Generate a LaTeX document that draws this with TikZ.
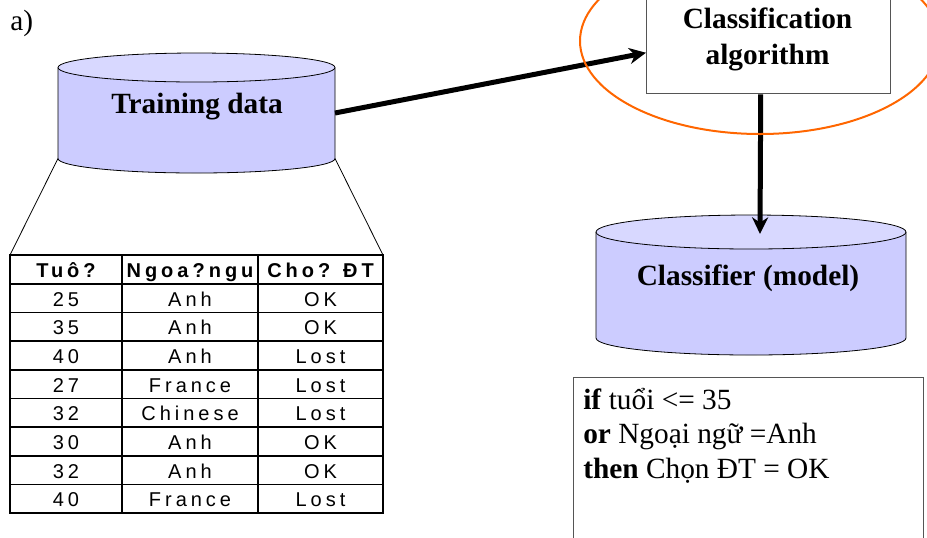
\documentclass[tikz,border=0pt]{standalone}
\usepackage{fontspec}
\setmainfont{Liberation Serif}
\newfontfamily\tabfont{Liberation Sans}[LetterSpace=20]
\usetikzlibrary{arrows.meta,calc}

\definecolor{cylside}{RGB}{204,204,255}
\definecolor{cyltop}{RGB}{216,216,255}
\definecolor{ringorange}{RGB}{255,102,0}
\definecolor{boxedge}{RGB}{85,85,85}

\begin{document}
\begin{tikzpicture}[x=0.75pt,y=-0.75pt,
  bigtext/.style={font=\fontsize{22}{26}\selectfont},
  title/.style={font=\fontsize{22}{26}\selectfont\bfseries},
  cell/.style={font=\tabfont\fontsize{15}{17}\selectfont, anchor=base, inner sep=0pt},
  headcell/.style={font=\tabfont\bfseries\fontsize{15}{17}\selectfont, anchor=base, inner sep=0pt},
  grid/.style={line width=1.2pt},
  outline/.style={line width=0.6pt},
  flow/.style={line width=3.75pt, -{Stealth[length=12.5pt,width=12pt,inset=4pt]}},
  ring/.style={draw=ringorange, line width=1.5pt}]

\useasboundingbox (0,0) rectangle (927,537);

\node[bigtext, anchor=base west, inner sep=0pt] (lbl) at (10,30) {a)};

% ---------- Training data cylinder ----------
\fill[cylside] (58,67.5) -- (58,158.5)
  arc[start angle=180, end angle=0, x radius=138.5, y radius=14.5] -- (335,67.5) -- cycle;
\draw[outline] (58,67.5) -- (58,158.5)
  arc[start angle=180, end angle=0, x radius=138.5, y radius=14.5] -- (335,67.5);
\filldraw[fill=cyltop, outline] (196.5,67.5) ellipse [x radius=138.5, y radius=14.5];
\node[title, anchor=base, inner sep=0pt] (td) at (197,113) {Training data};
\coordinate (tdBL) at (58,158.5);
\coordinate (tdBR) at (335,158.5);
\coordinate (tdR) at (335,113);

% ---------- table ----------
\coordinate (tabTL) at (10,255);
\coordinate (tabTR) at (383,255);
\draw[outline] (tdBL) -- (tabTL);
\draw[outline] (tdBR) -- (tabTR);

\draw[line width=1.5pt] (10,255) rectangle (383,513);
\foreach \cx in {122,258} \draw[grid] (\cx,255) -- (\cx,513);
\foreach \i in {1,...,8} \draw[grid] (10,255+\i*28.67) -- (383,255+\i*28.67);
\foreach \i in {1,3,4} \draw[line width=1.6pt] (10,255+\i*28.67) -- (383,255+\i*28.67);

\node[headcell] (h1) at (66,277) {Tuô?};
\node[headcell] (h2) at (190,277) {Ngoa?ngu};
\node[headcell] (h3) at (320.5,277) {Cho? ĐT};

\foreach \age/\lang/\res [count=\r] in
  {25/Anh/OK, 35/Anh/OK, 40/Anh/Lost, 27/France/Lost,
   32/Chinese/Lost, 30/Anh/OK, 32/Anh/OK, 40/France/Lost}{
  \node[cell] (a\r) at (66,255+\r*28.67+22.5) {\age};
  \node[cell] (l\r) at (190,255+\r*28.67+22.5) {\lang};
  \node[cell] (o\r) at (320.5,255+\r*28.67+22.5) {\res};
}

% ---------- classification algorithm ----------
\node[draw=boxedge, line width=1.1pt, anchor=north west, inner sep=0pt,
      minimum width=183pt, minimum height=71.25pt] (alg) at (646,-2) {};
\node[title, anchor=base, inner sep=0pt] (alg1) at (767.5,28) {Classification};
\node[title, anchor=base, inner sep=0pt] (alg2) at (767.5,64) {algorithm};

% ---------- classifier cylinder ----------
\fill[cylside] (596,232) -- (596,338)
  arc[start angle=180, end angle=0, x radius=155, y radius=17] -- (906,232) -- cycle;
\draw[outline] (596,232) -- (596,338)
  arc[start angle=180, end angle=0, x radius=155, y radius=17] -- (906,232);
\filldraw[fill=cyltop, outline] (751,232) ellipse [x radius=155, y radius=17];
\node[title, anchor=base, inner sep=0pt] (clf) at (748,285) {Classifier (model)};
\coordinate (clfIn) at (760,234);

% ---------- connectors ----------
\draw[flow] (tdR) -- ($(alg.west)+(0,6.5)$);
\draw[flow] ($(alg.south)+(-8,0)$) -- (clfIn);

\draw[ring] (760,41) ellipse [x radius=180, y radius=93];

% ---------- rule box ----------
\node[draw=boxedge, line width=0.8pt, anchor=north west, inner sep=0pt,
      minimum width=262.5pt, minimum height=126pt] (rules) at (573,377) {};
\node[bigtext, anchor=base west, inner sep=0pt] (r1) at (583,409) {\textbf{if} tuổi <= 35};
\node[bigtext, anchor=base west, inner sep=0pt] (r2) at (583,443.5) {\textbf{or} Ngoại ngữ =Anh};
\node[bigtext, anchor=base west, inner sep=0pt] (r3) at (583,478) {\textbf{then} Chọn ĐT = OK};

\end{tikzpicture}
\end{document}
